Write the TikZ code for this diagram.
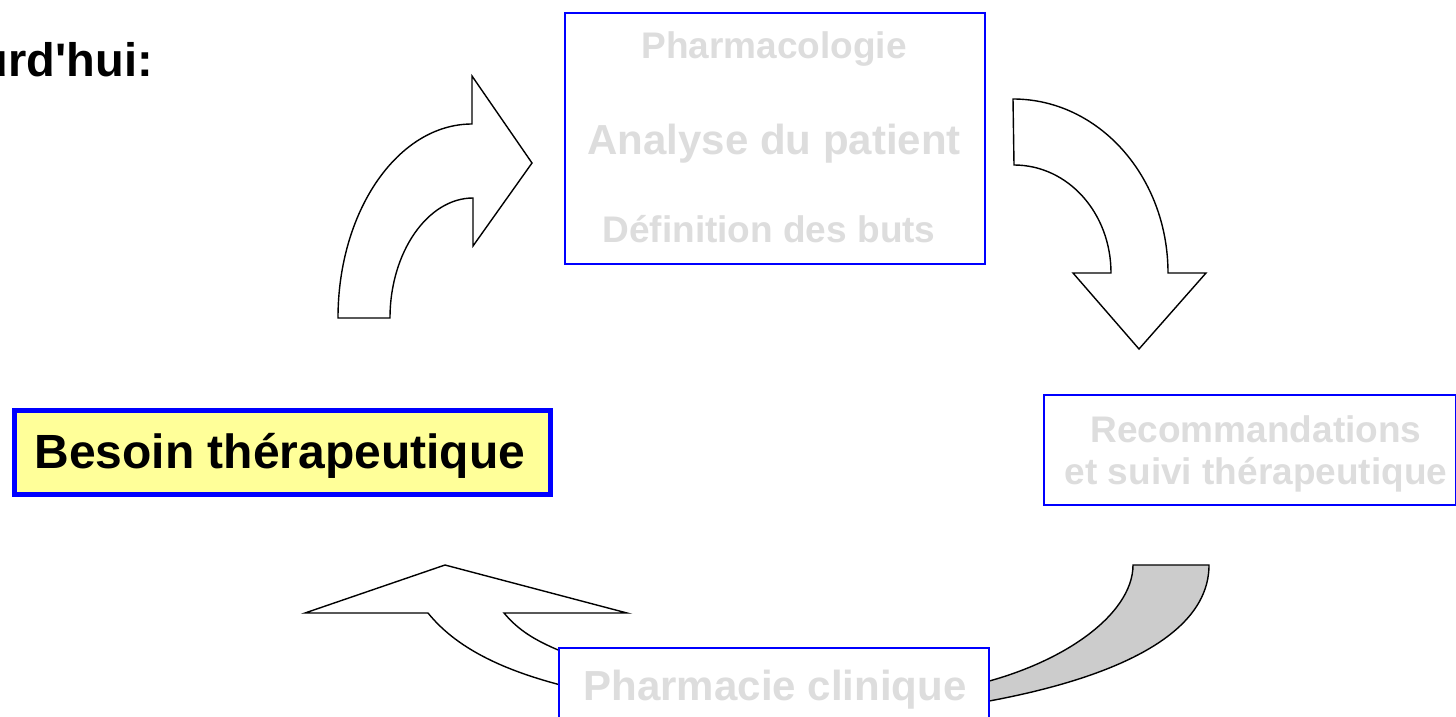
\documentclass[tikz,border=0pt]{standalone}
\usepackage{fontspec}
\setmainfont{Liberation Sans}
\definecolor{boxblue}{HTML}{0000FF}
\definecolor{fadetext}{HTML}{DDDDDD}
\definecolor{besoinfill}{HTML}{FFFF99}
\definecolor{arrowgray}{HTML}{CCCCCC}
\begin{document}
\begin{tikzpicture}[x=1pt,y=-1pt,
  bigarrow/.style={draw=black,line width=1.4pt,fill=white,line join=miter},
  grayarrow/.style={draw=black,line width=1.4pt,fill=arrowgray},
  thinbox/.style={draw=boxblue,line width=1.6pt,fill=white,rectangle},
  fadelabel/.style={text=fadetext,font=\bfseries,inner sep=0pt,anchor=base}
]
\useasboundingbox (0,0) rectangle (1456,717);

% upper-left curved arrow
\draw[bigarrow] (338,318) .. controls (338,211) and (398,124) .. (472,124)
  -- (472,76) -- (532,163) -- (473,246) -- (473,198)
  .. controls (428,198) and (390,252) .. (390,318) -- cycle;

% upper-right curved arrow
\draw[bigarrow] (1013,99) .. controls (1099,99) and (1168,177) .. (1168,273)
  -- (1206,273) -- (1139,349) -- (1073,273) -- (1111,273)
  .. controls (1111,213) and (1068,165) .. (1014,165) -- cycle;

% lower-right gray arrow (continues behind the box)
\draw[grayarrow] (1133,565) -- (1209,565)
  .. controls (1209,640) and (1100,684) .. (960,706)
  -- (960,688)
  .. controls (1060,668) and (1133,615) .. (1133,565) -- cycle;

% lower-left arrow (continues behind the box)
\draw[bigarrow] (445,565) -- (627,613) -- (504,613)
  .. controls (520,632) and (540,646) .. (600,665)
  -- (600,694)
  .. controls (510,676) and (458,650) .. (428,613)
  -- (305,613) -- cycle;

% boxes
\node[thinbox,minimum width=420pt,minimum height=251pt,anchor=north west] (analyse) at (564,12) {};
\node[fadelabel,font=\fontsize{37}{44}\selectfont\bfseries] (pharmaco) at (774,59) {Pharmacologie};
\node[fadelabel,font=\fontsize{42}{50}\selectfont\bfseries] (patient) at (774,154) {Analyse du patient};
\node[fadelabel,font=\fontsize{37}{44}\selectfont\bfseries] (buts) at (769,242) {Définition des buts};

\node[thinbox,minimum width=412pt,minimum height=110pt,anchor=north west] (reco) at (1043,394) {};
\node[fadelabel,font=\fontsize{37}{44}\selectfont\bfseries] (reco1) at (1256,442) {Recommandations};
\node[fadelabel,font=\fontsize{37}{44}\selectfont\bfseries] (reco2) at (1256,484) {et suivi thérapeutique};

\node[thinbox,minimum width=430pt,minimum height=90pt,anchor=north west] (clin) at (558,647) {};
\node[fadelabel,font=\fontsize{42}{50}\selectfont\bfseries] (clintext) at (775,700) {Pharmacie clinique};

\node[draw=boxblue,line width=5pt,fill=besoinfill,minimum width=536pt,minimum height=84pt,anchor=north west,inner sep=0pt] (besoin) at (11.5,407.5) {};
\node[inner sep=0pt,anchor=base,font=\fontsize{48}{56}\selectfont\bfseries] (besointext) at (280,468) {Besoin thérapeutique};

\node[inner sep=0pt,anchor=base east,font=\fontsize{47}{56}\selectfont\bfseries] (today) at (153,77) {Aujourd\textquotesingle hui:};
\end{tikzpicture}
\end{document}
